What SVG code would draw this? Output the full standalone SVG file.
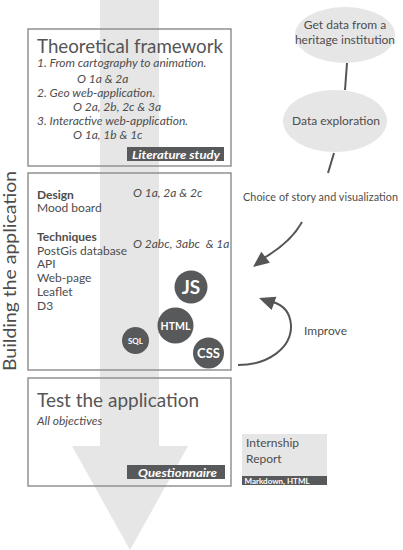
<svg xmlns="http://www.w3.org/2000/svg" width="403" height="550" viewBox="0 0 403 550">
<style>
text{font-family:Lato,"Liberation Sans",sans-serif;fill:#4d4d4d;}
.t{font-size:12px;}
.it{font-size:12px;font-style:italic;}
.title{font-size:20px;fill:#555;}
.b{font-weight:bold;}
.lbl{font-weight:bold;font-style:italic;fill:#fff;font-size:12px;}
.box{fill:none;stroke:#8a8a8a;stroke-width:1.4;}
.dark{fill:#58595b;}
.light{fill:#e6e6e6;}
.conn{fill:none;stroke:#555;stroke-width:2;}
.head{fill:#555;}
.w{fill:#fff;font-weight:bold;text-anchor:middle;}
</style>
<g id="big-arrow">
<polygon class="light" points="100,0 159,0 159,446 188,446 130,550 72,446 100,446"/>
</g>
<g id="side-label">
<text transform="translate(16,371) rotate(-90)" font-size="17" textLength="200" lengthAdjust="spacingAndGlyphs">Building the application</text>
</g>
<g id="theoretical-framework">
<rect class="box" x="28" y="29" width="203" height="137"/>
<text class="title" x="37" y="53" textLength="186" lengthAdjust="spacingAndGlyphs">Theoretical framework</text>
<text class="it" x="37" y="67">1. From cartography to animation.</text>
<text class="it" x="77" y="83">O 1a &amp; 2a</text>
<text class="it" x="37" y="97">2. Geo web-application.</text>
<text class="it" x="73" y="111">O 2a, 2b, 2c &amp; 3a</text>
<text class="it" x="37" y="125">3. Interactive web-application.</text>
<text class="it" x="73" y="139">O 1a, 1b &amp; 1c</text>
<rect class="dark" x="127" y="147" width="97" height="14"/>
<text class="lbl" x="132" y="158.5" textLength="88" lengthAdjust="spacingAndGlyphs">Literature study</text>
</g>
<g id="building">
<rect class="box" x="28" y="173" width="203" height="197"/>
<text class="t b" x="37" y="199">Design</text>
<text class="t" x="37" y="212">Mood board</text>
<text class="t b" x="37" y="241">Techniques</text>
<text class="t" x="37" y="255">PostGis database</text>
<text class="t" x="37" y="268">API</text>
<text class="t" x="37" y="282">Web-page</text>
<text class="t" x="37" y="296">Leaflet</text>
<text class="t" x="37" y="310">D3</text>
<text class="it" x="133" y="197">O 1a, 2a &amp; 2c</text>
<text class="it" x="133" y="248" style="white-space:pre">O 2abc, 3abc  &amp; 1a</text>
</g>
<g id="js"><circle class="dark" cx="191" cy="287" r="16.5"/><text class="w" x="191" y="294" font-size="19">JS</text></g>
<g id="html"><circle class="dark" cx="175.5" cy="325.5" r="18"/><text class="w" x="175.5" y="329.5" font-size="10.5">HTML</text></g>
<g id="sql"><circle class="dark" cx="135.5" cy="340.5" r="13.5"/><text class="w" x="135.5" y="343.5" font-size="8">SQL</text></g>
<g id="css"><circle class="dark" cx="208.5" cy="353" r="15.5"/><text class="w" x="208.5" y="358" font-size="13">CSS</text></g>
<g id="test">
<rect class="box" x="28" y="378" width="203" height="108"/>
<text class="title" x="37" y="407" textLength="162" lengthAdjust="spacingAndGlyphs">Test the application</text>
<text class="it" x="37" y="425" font-size="11.5">All objectives</text>
<rect class="dark" x="127" y="465" width="98" height="14"/>
<text class="lbl" x="138" y="476.5" textLength="79" lengthAdjust="spacingAndGlyphs">Questionnaire</text>
</g>
<g id="report">
<rect class="light" x="242" y="434" width="85" height="42"/>
<rect class="dark" x="242" y="476" width="85" height="9"/>
<text class="t" x="246" y="447">Internship</text>
<text class="t" x="246" y="463">Report</text>
<text class="b" x="244.5" y="483.5" font-size="8" style="fill:#fff">Markdown, HTML</text>
</g>
<g id="get-data">
<ellipse class="light" cx="345" cy="35" rx="50" ry="28"/>
<text class="t" x="345" y="29" text-anchor="middle">Get data from a</text>
<text class="t" x="345" y="44" text-anchor="middle">heritage institution</text>
</g>
<g id="data-exploration">
<ellipse class="light" cx="335" cy="121" rx="52" ry="31"/>
<text class="t" x="336" y="125" text-anchor="middle">Data exploration</text>
</g>
<g id="choice">
<text x="243" y="201" font-size="10.8" textLength="155" lengthAdjust="spacing">Choice of story and visualization</text>
</g>
<g id="improve-label">
<text class="t" x="304" y="335">Improve</text>
</g>
<g id="connectors">
<line class="conn" x1="347" y1="63" x2="345" y2="90"/>
<line class="conn" x1="334" y1="153" x2="328" y2="173"/>
<path class="conn" d="M302,222 Q291,242 264,258"/>
<polygon class="head" points="253,267 261.3,251.7 269.9,262.7"/>
<path class="conn" d="M238,365 C268,365 292,348 291,325 C290,312 283,305 273,302"/>
<polygon class="head" points="259,298 276.4,296.8 271.6,310"/>
</g>
</svg>
